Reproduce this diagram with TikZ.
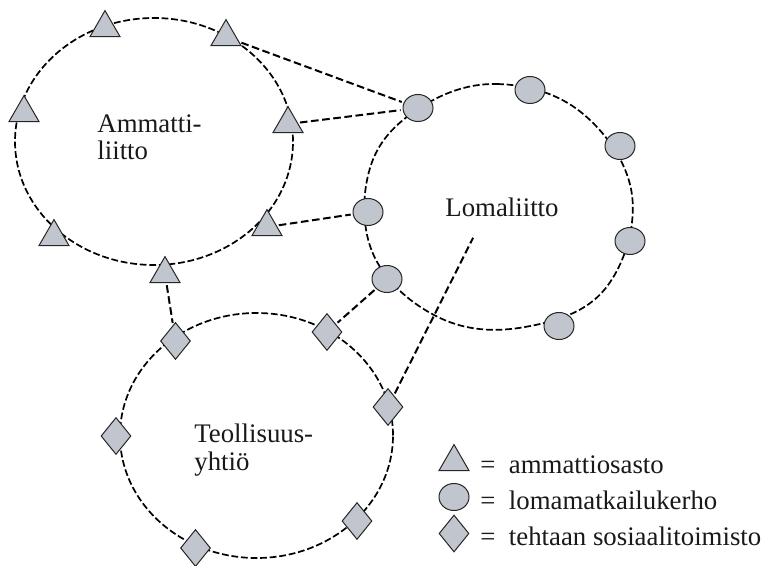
\documentclass[tikz,border=0pt]{standalone}
\usepackage{fontspec}
\setmainfont{Liberation Serif}
\usetikzlibrary{shapes.geometric}
\definecolor{markgray}{RGB}{193,197,205}

\tikzset{
	trinode/.style={regular polygon, regular polygon sides=3, draw=black!85, fill=markgray, line width=0.5pt, inner sep=0pt, minimum size=17.4pt},
	ovalnode/.style={ellipse, draw=black!85, fill=markgray, line width=0.5pt, inner sep=0pt, minimum width=15pt, minimum height=13.5pt},
	diamnode/.style={diamond, draw=black!85, fill=markgray, line width=0.5pt, inner sep=0pt, minimum width=15pt, minimum height=18.5pt},
	orgline/.style={black, line width=0.85pt, dash pattern=on 3.4pt off 1.4pt},
	linkline/.style={black, line width=1pt, dash pattern=on 3.8pt off 1.8pt, shorten <=1pt, shorten >=1pt},
	labeltext/.style={font=\fontsize{13.4}{13.7}\selectfont, inner sep=0pt, text=black!90}
}

\begin{document}
\begin{tikzpicture}[x=0.5pt, y=-0.5pt]
		\useasboundingbox (0,0) rectangle (764,566);
		% the three organisations
		\draw[orgline] (154,141.5) ellipse [x radius=69.5pt, y radius=61.75pt];
		\draw[orgline] (256.5,435.5) ellipse [x radius=68.25pt, y radius=61.25pt];
		\draw[orgline] plot[smooth cycle, tension=0.65] coordinates {(418,109) (497,84) (582,113) (632,195) (605,289) (525,327) (440,318) (374,256) (370,168)};
		\node[labeltext, anchor=north west, align=left] (amm) at (97,114) {Ammatti-\\liitto};
		\node[labeltext, anchor=base west] (loma) at (445,217) {Lomaliitto};
		\node[labeltext, anchor=north west, align=left] (teol) at (194,424) {Teollisuus-\\yhtiö};
		% ammattiosastot
		\node[trinode] (t1) at (105,28) {};
		\node[trinode] (t2) at (226,37) {};
		\node[trinode] (t3) at (24,113) {};
		\node[trinode] (t4) at (288,124) {};
		\node[trinode] (t5) at (267,227) {};
		\node[trinode] (t6) at (54,237) {};
		\node[trinode] (t7) at (165,274) {};
		% lomamatkailukerhot
		\node[ovalnode] (c1) at (418,108) {};
		\node[ovalnode] (c2) at (530,90) {};
		\node[ovalnode] (c3) at (620,146) {};
		\node[ovalnode] (c4) at (630,241) {};
		\node[ovalnode] (c5) at (559,326) {};
		\node[ovalnode] (c6) at (368,212) {};
		\node[ovalnode] (c7) at (387,279) {};
		% sosiaalitoimistot
		\node[diamnode] (d1) at (175.5,341) {};
		\node[diamnode] (d2) at (327,332) {};
		\node[diamnode] (d3) at (388,407) {};
		\node[diamnode] (d4) at (116,436) {};
		\node[diamnode] (d5) at (357,521) {};
		\node[diamnode] (d6) at (195.5,548) {};
		\coordinate (lineend) at (474,236);
		% links
		\draw[linkline] (t2) -- (c1);
		\draw[linkline] (t4) -- (c1);
		\draw[linkline] (t5) -- (c6);
		\draw[linkline] (t7) -- (d1);
		\draw[linkline] (c7) -- (d2);
		\draw[linkline] (d3) -- (lineend);
		% legend
		\node[trinode] (lt) at (454,462) {};
		\node[ovalnode] (lc) at (454,497) {};
		\node[diamnode] (ld) at (454,533.5) {};
		\node[labeltext, anchor=base west] (lttext) at (480,473) {=\enspace ammattiosasto};
		\node[labeltext, anchor=base west] (lctext) at (480,509) {=\enspace lomamatkailukerho};
		\node[labeltext, anchor=base west] (ldtext) at (480,545) {=\enspace tehtaan sosiaalitoimisto};
		\end{tikzpicture}
\end{document}
